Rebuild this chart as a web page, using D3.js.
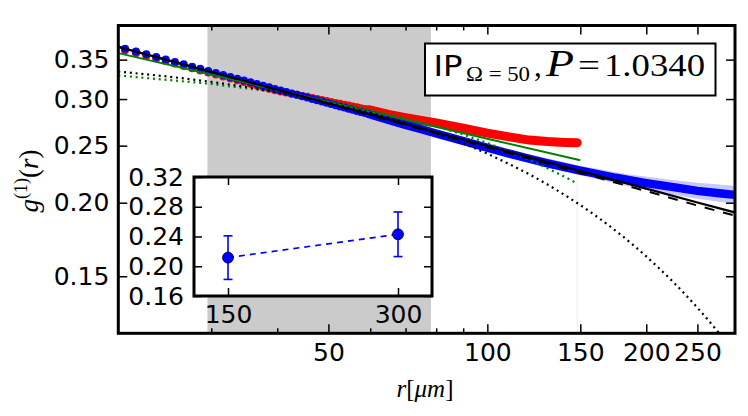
<!DOCTYPE html>
<html><head><meta charset="utf-8">
<script src="https://cdn.jsdelivr.net/npm/d3@7"></script>
<style>body{margin:0;background:#fff}svg{display:block}</style>
</head><body><svg id="c" width="748" height="416"></svg>
<script>
// ---------- data ----------
const xTicks = [50, 100, 150, 200, 250];
const xMinorTicks = [30, 40, 60, 70, 80, 90];
const yTicks = [0.15, 0.20, 0.25, 0.30, 0.35];
const shadeRange = [29.5, 78.2];
const cutoffR = 148;

const dotR = [20.6,21.6,22.6,23.6,24.6,25.6,26.6,27.6,28.6,29.6,30.6,31.6,32.6,33.6,34.6,35.6,36.6,37.6,38.6,39.6,
              40.6,41.6,42.6,43.6,44.6,45.6,46.6,47.6,48.6,49.6,50.6,51.6,52.6,53.6,54.6,55.6,56.6,57.6,58.6,59.6];
const blueDotG = [0.3654,0.3612,0.3573,0.3536,0.3501,0.3467,0.3436,0.3405,0.3376,0.3348,0.3322,0.3296,0.3271,0.3247,0.3225,0.3203,0.3181,0.3161,0.3141,0.3121,
                  0.3103,0.3085,0.3067,0.3050,0.3033,0.3017,0.3001,0.2986,0.2971,0.2957,0.2942,0.2929,0.2915,0.2902,0.2889,0.2876,0.2864,0.2852,0.2840,0.2829];
const redDotG = [0.3632,0.3590,0.3552,0.3515,0.3480,0.3446,0.3415,0.3385,0.3356,0.3328,0.3302,0.3276,0.3251,0.3228,0.3206,0.3184,0.3162,0.3142,0.3122,0.3105,
                 0.3091,0.3079,0.3064,0.3050,0.3036,0.3026,0.3013,0.3001,0.2989,0.2978,0.2966,0.2955,0.2944,0.2934,0.2924,0.2913,0.2904,0.2895,0.2885,0.2877];

const blueTailR = [59.6,65,70,75,80,90,100,110,120,130,140,150,160,175,200,225,250,275,295];
const blueTailG = [0.2829,0.2765,0.2712,0.2665,0.2622,0.2546,0.2480,0.2423,0.2375,0.2333,0.2298,0.2268,0.2242,0.2205,0.2160,0.2125,0.2095,0.2075,0.2062];
const bandR  = [100,150,183,220,250,295];
const bandLo = [0.2452,0.2226,0.2137,0.2070,0.2031,0.1990];
const bandHi = [0.2508,0.2310,0.2238,0.2190,0.2162,0.2136];

const redTailR = [59.6,65,70,75,80,90,100,110,120,130,140,148];
const redTailG = [0.2877,0.2825,0.2789,0.2759,0.2733,0.2676,0.2625,0.2587,0.2555,0.2540,0.2532,0.2528];

const greenR = [20,50,100,150];
const greenG = [0.359,0.2967,0.2569,0.2361];
const greenDotR = [20,30,40,50,60,70,80,90,100,110,120,130,140,148];
const greenDotG = [0.3290,0.3183,0.3080,0.2980,0.2883,0.2789,0.2699,0.2611,0.2526,0.2444,0.2365,0.2288,0.2214,0.2156];

const blackR = [20,50,100,150,200,250,295];
const blackG = [0.368,0.2951,0.2497,0.2264,0.2113,0.2002,0.1924];
const blackDashR = [20,60,100,150,200,250,295];
const blackDashG = [0.368,0.2815,0.2484,0.2248,0.2093,0.1978,0.1900];
const blackDotR = [20,25,30,35,40,45,50,60,70,80,90,100,110,120,130,140,150,160,170,180,190,200,210,220,230,240,250,260,270,280];
const blackDotG = [0.3341,0.3274,0.3209,0.3145,0.3083,0.3022,0.2962,0.2845,0.2733,0.2625,0.2522,0.2423,0.2327,0.2236,0.2148,0.2063,0.1982,0.1904,0.1829,0.1757,0.1688,0.1621,0.1557,0.1496,0.1437,0.1381,0.1326,0.1274,0.1224,0.1176];

const insetX = [150, 300];
const insetG = [0.2116, 0.2430];
const insetErr = [0.0293, 0.0300];
const insetXTicks = [150, 300];
const insetYTicks = [0.16, 0.20, 0.24, 0.28, 0.32];

// ---------- layout ----------
const svg = d3.select("#c");
svg.append("rect").attr("width",748).attr("height",416).attr("fill","#fff");
const L = 118.3, R = 735, T = 25.5, B = 333.3;
const x = d3.scaleLog().domain([20, 294.5]).range([L, R]);
const y = d3.scaleLog().domain([0.12, 0.40]).range([B, T]);
const SANS = "DejaVu Sans";
const SERIF = "Liberation Serif";

svg.append("clipPath").attr("id","clip").append("rect")
  .attr("x",L).attr("y",T).attr("width",R-L).attr("height",B-T);
const P = svg.append("g").attr("clip-path","url(#clip)");

// shaded region
P.append("rect").attr("x",x(shadeRange[0])).attr("y",T)
  .attr("width",x(shadeRange[1])-x(shadeRange[0])).attr("height",B-T).attr("fill","#cbcbcb");

// faint cutoff line
P.append("line").attr("x1",x(cutoffR)).attr("x2",x(cutoffR)).attr("y1",y(0.2528)).attr("y2",B)
  .attr("stroke","#eeeeee").attr("stroke-width",1);

const line = (xs, ys) => d3.line().x((d,i)=>x(xs[i])).y((d,i)=>y(ys[i]))(xs);

// light blue band
const bandArea = d3.area().x((d,i)=>x(bandR[i])).y0((d,i)=>y(bandLo[i])).y1((d,i)=>y(bandHi[i]));
P.append("path").attr("d",bandArea(bandR)).attr("fill","#c8c8ff");

// red
P.append("path").attr("d",line(redTailR,redTailG)).attr("fill","none")
  .attr("stroke","#ff0000").attr("stroke-width",9).attr("stroke-linecap","round").attr("stroke-linejoin","round");
P.selectAll(".rd").data(dotR).join("circle").attr("cx",d=>x(d)).attr("cy",(d,i)=>y(redDotG[i])).attr("r",4).attr("fill","#ff0000");

// blue
P.append("path").attr("d",line(blueTailR,blueTailG)).attr("fill","none")
  .attr("stroke","#0000ff").attr("stroke-width",8.4).attr("stroke-linecap","round").attr("stroke-linejoin","round");
P.selectAll(".bd").data(dotR).join("circle").attr("cx",d=>x(d)).attr("cy",(d,i)=>y(blueDotG[i])).attr("r",4).attr("fill","#0000ff");

// green
P.append("path").attr("d",line(greenR,greenG)).attr("fill","none").attr("stroke","#008000").attr("stroke-width",2);
P.append("path").attr("d",line(greenDotR,greenDotG)).attr("fill","none").attr("stroke","#008000")
  .attr("stroke-width",2.2).attr("stroke-dasharray","2,3.8");

// black
P.append("path").attr("d",line(blackDotR,blackDotG)).attr("fill","none").attr("stroke","#000")
  .attr("stroke-width",2.2).attr("stroke-dasharray","2,3.8");
P.append("path").attr("d",line(blackDashR,blackDashG)).attr("fill","none").attr("stroke","#000")
  .attr("stroke-width",2).attr("stroke-dasharray","10,9");
P.append("path").attr("d",line(blackR,blackG)).attr("fill","none").attr("stroke","#000").attr("stroke-width",2.2);

// ---------- axes ----------
function styleAxis(g){
  g.select(".domain").remove();
  g.selectAll(".tick line").attr("stroke","#000").attr("stroke-width",1.5);
  g.selectAll(".tick text").attr("fill","#000").attr("font-family",SANS).attr("font-size",25);
}
svg.append("g").attr("transform",`translate(0,${B})`)
  .call(d3.axisBottom(x).tickValues(xTicks).tickSize(-9).tickPadding(10).tickFormat(d3.format("d"))).call(styleAxis);
svg.append("g").attr("transform",`translate(0,${B})`)
  .call(d3.axisBottom(x).tickValues(xMinorTicks).tickSize(-5).tickFormat("")).call(styleAxis);
svg.append("g").attr("transform",`translate(0,${T})`)
  .call(d3.axisTop(x).tickValues(xTicks).tickSize(-9).tickFormat("")).call(styleAxis);
svg.append("g").attr("transform",`translate(0,${T})`)
  .call(d3.axisTop(x).tickValues(xMinorTicks).tickSize(-5).tickFormat("")).call(styleAxis);
svg.append("g").attr("transform",`translate(${L},0)`)
  .call(d3.axisLeft(y).tickValues(yTicks).tickSize(-9).tickPadding(9).tickFormat(d3.format(".2f"))).call(styleAxis);
svg.append("g").attr("transform",`translate(${R},0)`)
  .call(d3.axisRight(y).tickValues(yTicks).tickSize(-9).tickFormat("")).call(styleAxis);

svg.append("rect").attr("x",L).attr("y",T).attr("width",R-L).attr("height",B-T)
  .attr("fill","none").attr("stroke","#000").attr("stroke-width",3);

// axis labels
const xl = svg.append("text").attr("x",425).attr("y",397).attr("text-anchor","middle")
  .attr("font-family",SERIF).attr("font-size",25).attr("fill","#000");
xl.append("tspan").attr("font-style","italic").text("r");
xl.append("tspan").text("[");
xl.append("tspan").attr("font-style","italic").text("μm");
xl.append("tspan").text("]");

const yl = svg.append("text").attr("transform","translate(38,181) rotate(-90)").attr("text-anchor","middle")
  .attr("font-family",SERIF).attr("font-size",27).attr("fill","#000");
yl.append("tspan").attr("font-style","italic").text("g");
yl.append("tspan").attr("font-size",18).attr("dy",-11).text("(1)");
yl.append("tspan").attr("dy",11).text("(");
yl.append("tspan").attr("font-style","italic").text("r");
yl.append("tspan").text(")");

// ---------- legend ----------
const lg = svg.append("g");
lg.append("rect").attr("x",425).attr("y",43.5).attr("width",290.5).attr("height",52)
  .attr("fill","#fff").attr("stroke","#000").attr("stroke-width",2);
lg.append("text").attr("x",433.5).attr("y",75.5).attr("font-family",SANS).attr("font-size",28)
  .attr("textLength",29).attr("lengthAdjust","spacingAndGlyphs").text("IP");
lg.append("text").attr("x",466).attr("y",81).attr("font-family",SERIF).attr("font-size",20)
  .attr("textLength",64).attr("lengthAdjust","spacingAndGlyphs").text("Ω = 50");
lg.append("text").attr("x",534).attr("y",75.5).attr("font-family",SERIF).attr("font-size",31).text(",");
lg.append("text").attr("x",546).attr("y",75.5).attr("font-family",SERIF).attr("font-size",38)
  .attr("font-style","italic").attr("textLength",28).attr("lengthAdjust","spacingAndGlyphs").text("P");
lg.append("text").attr("x",578).attr("y",75.5).attr("font-family",SERIF).attr("font-size",31)
  .attr("textLength",22).attr("lengthAdjust","spacingAndGlyphs").text("=");
lg.append("text").attr("x",604).attr("y",75.5).attr("font-family",SERIF).attr("font-size",31)
  .attr("textLength",101).attr("lengthAdjust","spacingAndGlyphs").text("1.0340");

// ---------- inset ----------
const iL = 194, iR = 432, iT = 177, iB = 296;
const ix = d3.scaleLinear().domain([120, 330]).range([iL, iR]);
const iy = d3.scaleLinear().domain([0.16, 0.32]).range([iB, iT]);
const I = svg.append("g");
I.append("rect").attr("x",iL).attr("y",iT).attr("width",iR-iL).attr("height",iB-iT).attr("fill","#fff");
I.append("path").attr("d",d3.line().x((d,i)=>ix(insetX[i])).y((d,i)=>iy(insetG[i]))(insetX))
  .attr("fill","none").attr("stroke","#0000ff").attr("stroke-width",1.6).attr("stroke-dasharray","6,5");
insetX.forEach((v,i)=>{
  const cx = ix(v), lo = iy(insetG[i]-insetErr[i]), hi = iy(insetG[i]+insetErr[i]);
  I.append("line").attr("x1",cx).attr("x2",cx).attr("y1",lo).attr("y2",hi).attr("stroke","#0000ff").attr("stroke-width",1.6);
  [lo,hi].forEach(yy=>I.append("line").attr("x1",cx-4.5).attr("x2",cx+4.5).attr("y1",yy).attr("y2",yy)
    .attr("stroke","#0000ff").attr("stroke-width",1.6));
});
I.selectAll(".ip").data(insetX).join("circle").attr("cx",d=>ix(d)).attr("cy",(d,i)=>iy(insetG[i]))
  .attr("r",5.5).attr("fill","#0000ff").attr("stroke","#000033").attr("stroke-width",0.8);

I.append("g").attr("transform",`translate(0,${iB})`)
  .call(d3.axisBottom(ix).tickValues(insetXTicks).tickSize(-8).tickPadding(9).tickFormat(d3.format("d"))).call(styleAxis);
I.append("g").attr("transform",`translate(0,${iT})`)
  .call(d3.axisTop(ix).tickValues(insetXTicks).tickSize(-8).tickFormat("")).call(styleAxis);
I.append("g").attr("transform",`translate(${iL},0)`)
  .call(d3.axisLeft(iy).tickValues(insetYTicks).tickSize(-8).tickPadding(10).tickFormat(d3.format(".2f"))).call(styleAxis);
I.append("g").attr("transform",`translate(${iR},0)`)
  .call(d3.axisRight(iy).tickValues(insetYTicks).tickSize(-8).tickFormat("")).call(styleAxis);
I.append("rect").attr("x",iL).attr("y",iT).attr("width",iR-iL).attr("height",iB-iT)
  .attr("fill","none").attr("stroke","#000").attr("stroke-width",3);
</script></body></html>
